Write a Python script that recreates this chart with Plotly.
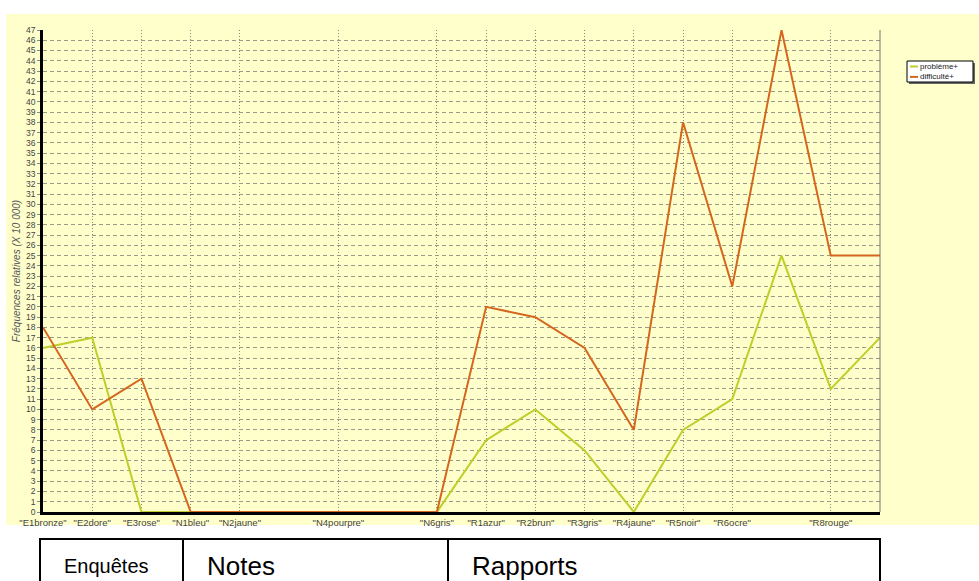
import plotly.graph_objects as go

categories = ['"E1bronze"', '"E2dore"', '"E3rose"', '"N1bleu"', '"N2jaune"', '"N3"',
              '"N4pourpre"', '"N5"', '"N6gris"', '"R1azur"', '"R2brun"', '"R3gris"',
              '"R4jaune"', '"R5noir"', '"R6ocre"', '"R7"', '"R8rouge"', '"R9"']
shown_ticks = ['"E1bronze"', '"E2dore"', '"E3rose"', '"N1bleu"', '"N2jaune"',
               '"N4pourpre"', '"N6gris"', '"R1azur"', '"R2brun"', '"R3gris"',
               '"R4jaune"', '"R5noir"', '"R6ocre"', '"R8rouge"']
probleme = [16, 17, 0, 0, 0, 0, 0, 0, 0, 7, 10, 6, 0, 8, 11, 25, 12, 17]
difficulte = [18, 10, 13, 0, 0, 0, 0, 0, 0, 20, 19, 16, 8, 38, 22, 47, 25, 25]
series_names = ["problème+", "difficulté+"]
series_colors = ["#BCCF2A", "#D4661E"]
y_title = "Fréquences relatives (X 10 000)"
table_labels = ["Enquêtes", "Notes", "Rapports"]

W, H = 979, 581
L, R, T, B = 43, 99, 30, 69
PW, PH = W - L - R, H - T - B


def px(x):
    return (x - L) / PW


def py(y):
    return (H - B - y) / PH


fig = go.Figure()
for name, vals, col in zip(series_names, [probleme, difficulte], series_colors):
    fig.add_trace(go.Scatter(x=categories, y=vals, mode="lines", name=name,
                             line=dict(color=col, width=2), showlegend=False))

shapes = []
# yellow background
shapes.append(dict(type="rect", xref="paper", yref="paper", x0=px(6), x1=px(979),
                   y0=py(525), y1=py(14), fillcolor="#FFFFCC", line=dict(width=0),
                   layer="below"))
# right border
shapes.append(dict(type="line", xref="paper", yref="paper", x0=1, x1=1, y0=0, y1=1,
                   line=dict(color="#777777", width=1)))
# legend box shadow + box
shapes.append(dict(type="rect", xref="paper", yref="paper", x0=px(909), x1=px(975),
                   y0=py(84), y1=py(63), fillcolor="#666666", line=dict(width=0)))
shapes.append(dict(type="rect", xref="paper", yref="paper", x0=px(907), x1=px(973),
                   y0=py(82), y1=py(61), fillcolor="white",
                   line=dict(color="black", width=1)))
annotations = []
for i, col in enumerate(series_colors):
    yy = 66.5 + i * 10.4
    shapes.append(dict(type="line", xref="paper", yref="paper", x0=px(910), x1=px(918),
                       y0=py(yy), y1=py(yy), line=dict(color=col, width=2)))
annotations.append(dict(xref="paper", yref="paper", x=px(919), y=py(71.7),
                        text="<br>".join(series_names), align="left",
                        showarrow=False, xanchor="left", yanchor="middle", borderpad=0,
                        font=dict(size=8, color="#222222",
                                  family="Liberation Sans, Arial")))
# table lines
shapes.append(dict(type="line", xref="paper", yref="paper", x0=px(39), x1=px(881),
                   y0=py(539), y1=py(539), line=dict(color="black", width=2)))
for xv in [40, 183, 448, 880]:
    shapes.append(dict(type="line", xref="paper", yref="paper", x0=px(xv), x1=px(xv),
                       y0=py(539), y1=py(600), line=dict(color="black", width=2)))
for txt, xl, fs in zip(table_labels, [62, 205, 470], [20, 26, 26]):
    annotations.append(dict(xref="paper", yref="paper", x=px(xl), y=py(566), text=txt,
                            showarrow=False, xanchor="left", yanchor="middle",
                            font=dict(size=fs, color="black",
                                      family="Liberation Sans, Arial")))

fig.update_layout(
    width=W, height=H,
    margin=dict(l=L, r=R, t=T, b=B, pad=0),
    paper_bgcolor="white",
    plot_bgcolor="#FFFFCC",
    showlegend=False,
    shapes=shapes,
    annotations=annotations,
    font=dict(family="Liberation Sans, Arial", size=8, color="#444444"),
)
fig.update_xaxes(
    type="category", range=[0, len(categories) - 1],
    tickmode="array", tickvals=shown_ticks, ticktext=shown_ticks,
    showgrid=True, gridcolor="#8C8C7C", griddash="1px,2px", gridwidth=1,
    showline=True, linecolor="black", linewidth=2.5,
    ticks="", ticklabelstandoff=0,
    tickfont=dict(size=9.5, color="#444444"), tickangle=0,
    zeroline=False,
)
fig.update_yaxes(
    range=[0, 47], dtick=1, tick0=0,
    showgrid=True, gridcolor="#9A9A8A", griddash="4px,3px", gridwidth=1,
    showline=True, linecolor="black", linewidth=2.5,
    ticks="outside", ticklen=3, tickcolor="#888888",
    tickfont=dict(size=8.5, color="#444444"),
    title=dict(text=y_title, standoff=4,
               font=dict(size=10, color="#555555", style="italic")),
    zeroline=False,
)
fig.write_html("out.html", config={"displayModeBar": False},
               post_script=["document.body.style.margin='0px';"])
